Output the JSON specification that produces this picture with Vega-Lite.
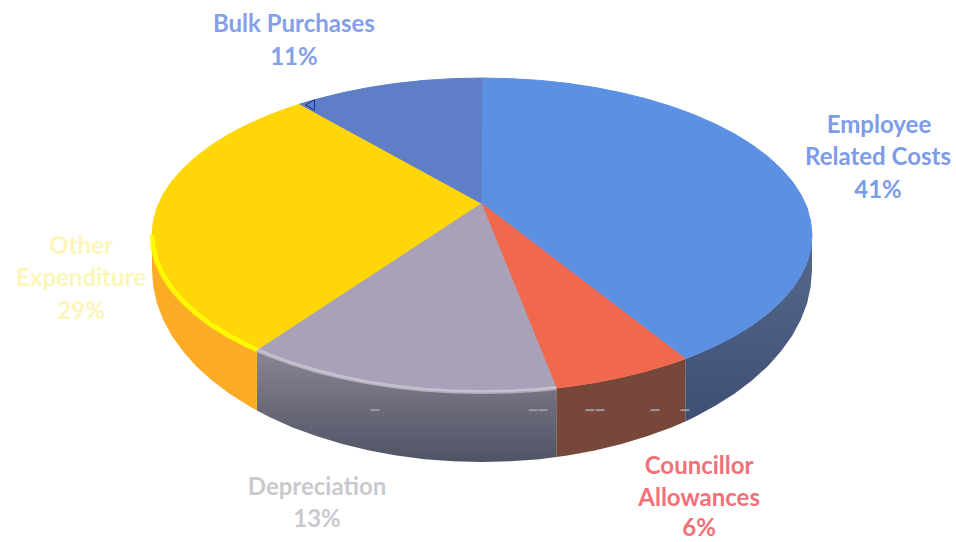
{
  "$schema": "https://vega.github.io/schema/vega-lite/v6.json",
  "width": 956,
  "height": 542,
  "padding": 0,
  "autosize": {"type": "none"},
  "background": "white",
  "view": {"stroke": null},
  "datasets": {
    "faces": [
      {"slice":"Employee","i":0,"u":-0.003,"v":0.204},{"slice":"Employee","i":1,"u":0,"v":1},{"slice":"Employee","i":2,"u":0.087,"v":0.996},{"slice":"Employee","i":3,"u":0.174,"v":0.985},{"slice":"Employee","i":4,"u":0.259,"v":0.966},{"slice":"Employee","i":5,"u":0.342,"v":0.94},{"slice":"Employee","i":6,"u":0.423,"v":0.906},{"slice":"Employee","i":7,"u":0.5,"v":0.866},{"slice":"Employee","i":8,"u":0.574,"v":0.819},{"slice":"Employee","i":9,"u":0.643,"v":0.766},{"slice":"Employee","i":10,"u":0.707,"v":0.707},{"slice":"Employee","i":11,"u":0.766,"v":0.643},{"slice":"Employee","i":12,"u":0.819,"v":0.574},{"slice":"Employee","i":13,"u":0.866,"v":0.5},{"slice":"Employee","i":14,"u":0.906,"v":0.423},{"slice":"Employee","i":15,"u":0.94,"v":0.342},{"slice":"Employee","i":16,"u":0.966,"v":0.259},{"slice":"Employee","i":17,"u":0.985,"v":0.174},{"slice":"Employee","i":18,"u":0.996,"v":0.087},{"slice":"Employee","i":19,"u":1,"v":0},{"slice":"Employee","i":20,"u":0.996,"v":-0.087},{"slice":"Employee","i":21,"u":0.985,"v":-0.174},{"slice":"Employee","i":22,"u":0.966,"v":-0.259},{"slice":"Employee","i":23,"u":0.94,"v":-0.342},{"slice":"Employee","i":24,"u":0.906,"v":-0.423},{"slice":"Employee","i":25,"u":0.866,"v":-0.5},{"slice":"Employee","i":26,"u":0.819,"v":-0.574},{"slice":"Employee","i":27,"u":0.766,"v":-0.643},{"slice":"Employee","i":28,"u":0.707,"v":-0.707},{"slice":"Employee","i":29,"u":0.643,"v":-0.766},{"slice":"Employee","i":30,"u":0.616,"v":-0.788},
      {"slice":"Councillor","i":0,"u":-0.003,"v":0.204},{"slice":"Councillor","i":1,"u":0.616,"v":-0.788},{"slice":"Councillor","i":2,"u":0.574,"v":-0.819},{"slice":"Councillor","i":3,"u":0.5,"v":-0.866},{"slice":"Councillor","i":4,"u":0.423,"v":-0.906},{"slice":"Councillor","i":5,"u":0.342,"v":-0.94},{"slice":"Councillor","i":6,"u":0.259,"v":-0.966},{"slice":"Councillor","i":7,"u":0.225,"v":-0.974},
      {"slice":"Depreciation","i":0,"u":-0.003,"v":0.204},{"slice":"Depreciation","i":1,"u":0.225,"v":-0.974},{"slice":"Depreciation","i":2,"u":0.174,"v":-0.985},{"slice":"Depreciation","i":3,"u":0.087,"v":-0.996},{"slice":"Depreciation","i":4,"u":0,"v":-1},{"slice":"Depreciation","i":5,"u":-0.087,"v":-0.996},{"slice":"Depreciation","i":6,"u":-0.174,"v":-0.985},{"slice":"Depreciation","i":7,"u":-0.259,"v":-0.966},{"slice":"Depreciation","i":8,"u":-0.342,"v":-0.94},{"slice":"Depreciation","i":9,"u":-0.423,"v":-0.906},{"slice":"Depreciation","i":10,"u":-0.5,"v":-0.866},{"slice":"Depreciation","i":11,"u":-0.574,"v":-0.819},{"slice":"Depreciation","i":12,"u":-0.643,"v":-0.766},{"slice":"Depreciation","i":13,"u":-0.682,"v":-0.731},
      {"slice":"Other","i":0,"u":-0.003,"v":0.204},{"slice":"Other","i":1,"u":-0.682,"v":-0.731},{"slice":"Other","i":2,"u":-0.707,"v":-0.707},{"slice":"Other","i":3,"u":-0.766,"v":-0.643},{"slice":"Other","i":4,"u":-0.819,"v":-0.574},{"slice":"Other","i":5,"u":-0.866,"v":-0.5},{"slice":"Other","i":6,"u":-0.906,"v":-0.423},{"slice":"Other","i":7,"u":-0.94,"v":-0.342},{"slice":"Other","i":8,"u":-0.966,"v":-0.259},{"slice":"Other","i":9,"u":-0.985,"v":-0.174},{"slice":"Other","i":10,"u":-0.996,"v":-0.087},{"slice":"Other","i":11,"u":-1,"v":0},{"slice":"Other","i":12,"u":-0.996,"v":0.087},{"slice":"Other","i":13,"u":-0.985,"v":0.174},{"slice":"Other","i":14,"u":-0.966,"v":0.259},{"slice":"Other","i":15,"u":-0.94,"v":0.342},{"slice":"Other","i":16,"u":-0.906,"v":0.423},{"slice":"Other","i":17,"u":-0.866,"v":0.5},{"slice":"Other","i":18,"u":-0.819,"v":0.574},{"slice":"Other","i":19,"u":-0.766,"v":0.643},{"slice":"Other","i":20,"u":-0.707,"v":0.707},{"slice":"Other","i":21,"u":-0.643,"v":0.766},{"slice":"Other","i":22,"u":-0.574,"v":0.819},{"slice":"Other","i":23,"u":-0.552,"v":0.834},
      {"slice":"Bulk","i":0,"u":-0.003,"v":0.204},{"slice":"Bulk","i":1,"u":-0.552,"v":0.834},{"slice":"Bulk","i":2,"u":-0.5,"v":0.866},{"slice":"Bulk","i":3,"u":-0.423,"v":0.906},{"slice":"Bulk","i":4,"u":-0.342,"v":0.94},{"slice":"Bulk","i":5,"u":-0.259,"v":0.966},{"slice":"Bulk","i":6,"u":-0.174,"v":0.985},{"slice":"Bulk","i":7,"u":-0.087,"v":0.996},{"slice":"Bulk","i":8,"u":0,"v":1}
    ],
    "walls": [
      {"slice":"Employee","u":1,"v":0,"vb":-0.223},{"slice":"Employee","u":0.996,"v":-0.087,"vb":-0.329},{"slice":"Employee","u":0.985,"v":-0.174,"vb":-0.436},{"slice":"Employee","u":0.966,"v":-0.259,"vb":-0.54},{"slice":"Employee","u":0.94,"v":-0.342,"vb":-0.641},{"slice":"Employee","u":0.906,"v":-0.423,"vb":-0.74},{"slice":"Employee","u":0.866,"v":-0.5,"vb":-0.835},{"slice":"Employee","u":0.819,"v":-0.574,"vb":-0.925},{"slice":"Employee","u":0.766,"v":-0.643,"vb":-1.009},{"slice":"Employee","u":0.707,"v":-0.707,"vb":-1.088},{"slice":"Employee","u":0.643,"v":-0.766,"vb":-1.16},{"slice":"Employee","u":0.616,"v":-0.788,"vb":-1.187},
      {"slice":"Councillor","u":0.616,"v":-0.788,"vb":-1.187},{"slice":"Councillor","u":0.574,"v":-0.819,"vb":-1.225},{"slice":"Councillor","u":0.5,"v":-0.866,"vb":-1.282},{"slice":"Councillor","u":0.423,"v":-0.906,"vb":-1.331},{"slice":"Councillor","u":0.342,"v":-0.94,"vb":-1.373},{"slice":"Councillor","u":0.259,"v":-0.966,"vb":-1.404},{"slice":"Councillor","u":0.225,"v":-0.974,"vb":-1.414},
      {"slice":"Depreciation","u":0.225,"v":-0.974,"vb":-1.414},{"slice":"Depreciation","u":0.174,"v":-0.985,"vb":-1.428},{"slice":"Depreciation","u":0.087,"v":-0.996,"vb":-1.441},{"slice":"Depreciation","u":0,"v":-1,"vb":-1.446},{"slice":"Depreciation","u":-0.087,"v":-0.996,"vb":-1.441},{"slice":"Depreciation","u":-0.174,"v":-0.985,"vb":-1.428},{"slice":"Depreciation","u":-0.259,"v":-0.966,"vb":-1.404},{"slice":"Depreciation","u":-0.342,"v":-0.94,"vb":-1.373},{"slice":"Depreciation","u":-0.423,"v":-0.906,"vb":-1.331},{"slice":"Depreciation","u":-0.5,"v":-0.866,"vb":-1.282},{"slice":"Depreciation","u":-0.574,"v":-0.819,"vb":-1.225},{"slice":"Depreciation","u":-0.643,"v":-0.766,"vb":-1.16},{"slice":"Depreciation","u":-0.682,"v":-0.731,"vb":-1.117},
      {"slice":"Other","u":-0.682,"v":-0.731,"vb":-1.117},{"slice":"Other","u":-0.707,"v":-0.707,"vb":-1.088},{"slice":"Other","u":-0.766,"v":-0.643,"vb":-1.009},{"slice":"Other","u":-0.819,"v":-0.574,"vb":-0.925},{"slice":"Other","u":-0.866,"v":-0.5,"vb":-0.835},{"slice":"Other","u":-0.906,"v":-0.423,"vb":-0.74},{"slice":"Other","u":-0.94,"v":-0.342,"vb":-0.641},{"slice":"Other","u":-0.966,"v":-0.259,"vb":-0.54},{"slice":"Other","u":-0.985,"v":-0.174,"vb":-0.436},{"slice":"Other","u":-0.996,"v":-0.087,"vb":-0.329},{"slice":"Other","u":-1,"v":0,"vb":-0.223}
    ],
    "labels": [
      {"slice":"Employee","text":"Employee","u":1.203,"v":0.694},
      {"slice":"Employee","text":"Related Costs","u":1.2,"v":0.49},
      {"slice":"Employee","text":"41%","u":1.2,"v":0.28},
      {"slice":"Councillor","text":"Councillor","u":0.658,"v":-1.478},
      {"slice":"Councillor","text":"Allowances","u":0.658,"v":-1.682},
      {"slice":"Councillor","text":"6%","u":0.658,"v":-1.873},
      {"slice":"Depreciation","text":"Depreciation","u":-0.5,"v":-1.611},
      {"slice":"Depreciation","text":"13%","u":-0.5,"v":-1.815},
      {"slice":"Other","text":"Other","u":-1.215,"v":-0.076},
      {"slice":"Other","text":"Expenditure","u":-1.215,"v":-0.28},
      {"slice":"Other","text":"29%","u":-1.215,"v":-0.49},
      {"slice":"Bulk","text":"Bulk Purchases","u":-0.57,"v":1.338},
      {"slice":"Bulk","text":"11%","u":-0.57,"v":1.127}
    ],
    "specks": [
      {"u":-0.324,"v":-1.115},{"u":0.155,"v":-1.115},{"u":0.185,"v":-1.115},{"u":0.327,"v":-1.115},{"u":0.358,"v":-1.115},{"u":0.524,"v":-1.115},{"u":0.615,"v":-1.115}
    ],
    "notch": [{"u":-0.521,"v":0.828}]
  },
  "layer": [
    {
      "data": {"name": "walls"},
      "transform": [{"filter": "datum.slice === 'Employee'"}],
      "mark": {"type": "area", "fill": {"gradient": "linear", "x1": 0, "y1": 0, "x2": 0, "y2": 1, "stops": [{"offset": 0, "color": "#566a8e"}, {"offset": 1, "color": "#3e4f72"}]}},
      "encoding": {
        "x": {"field": "u", "type": "quantitative", "scale": {"domain": [-1.4606, 1.4364], "nice": false, "zero": false}, "axis": null},
        "y": {"field": "v", "type": "quantitative", "scale": {"domain": [-1.955, 1.4968], "nice": false, "zero": false}, "axis": null},
        "y2": {"field": "vb"}
      }
    },
    {
      "data": {"name": "walls"},
      "transform": [{"filter": "datum.slice === 'Councillor'"}],
      "mark": {"type": "area", "fill": "#77483a"},
      "encoding": {
        "x": {"field": "u", "type": "quantitative", "axis": null},
        "y": {"field": "v", "type": "quantitative", "axis": null},
        "y2": {"field": "vb"}
      }
    },
    {
      "data": {"name": "walls"},
      "transform": [{"filter": "datum.slice === 'Depreciation'"}],
      "mark": {"type": "area", "fill": {"gradient": "linear", "x1": 0, "y1": 0, "x2": 0, "y2": 1, "stops": [{"offset": 0, "color": "#8a8597"}, {"offset": 0.5, "color": "#6c6b7c"}, {"offset": 1, "color": "#4f5464"}]}},
      "encoding": {
        "x": {"field": "u", "type": "quantitative", "axis": null},
        "y": {"field": "v", "type": "quantitative", "axis": null},
        "y2": {"field": "vb"}
      }
    },
    {
      "data": {"name": "walls"},
      "transform": [{"filter": "datum.slice === 'Other'"}],
      "mark": {"type": "area", "fill": "#fbab26"},
      "encoding": {
        "x": {"field": "u", "type": "quantitative", "axis": null},
        "y": {"field": "v", "type": "quantitative", "axis": null},
        "y2": {"field": "vb"}
      }
    },
    {
      "data": {"name": "specks"},
      "mark": {"type": "point", "shape": "stroke", "size": 80, "stroke": "#a9a7af", "strokeWidth": 2, "opacity": 0.8},
      "encoding": {
        "x": {"field": "u", "type": "quantitative", "axis": null},
        "y": {"field": "v", "type": "quantitative", "axis": null}
      }
    },
    {
      "data": {"name": "faces"},
      "mark": {"type": "line", "interpolate": "linear-closed", "filled": true, "strokeWidth": 1},
      "encoding": {
        "x": {"field": "u", "type": "quantitative", "axis": null},
        "y": {"field": "v", "type": "quantitative", "axis": null},
        "detail": {"field": "slice"},
        "order": {"field": "i", "type": "quantitative"},
        "fill": {"field": "slice", "type": "nominal", "legend": null, "scale": {"domain": ["Employee", "Councillor", "Depreciation", "Other", "Bulk"], "range": ["#5b90e2", "#f0694f", "#a9a1b7", "#ffd608", "#5f7ec8"]}},
        "stroke": {"field": "slice", "type": "nominal", "legend": null, "scale": {"domain": ["Employee", "Councillor", "Depreciation", "Other", "Bulk"], "range": ["#5b90e2", "#f0694f", "#a9a1b7", "#ffd608", "#5f7ec8"]}}
      }
    },
    {
      "data": {"name": "walls"},
      "transform": [{"filter": "datum.slice === 'Other'"}],
      "mark": {"type": "line", "stroke": "#ffff00", "strokeWidth": 5, "opacity": 0.85},
      "encoding": {
        "x": {"field": "u", "type": "quantitative", "axis": null},
        "y": {"field": "v", "type": "quantitative", "axis": null}
      }
    },
    {
      "data": {"name": "walls"},
      "transform": [{"filter": "datum.slice === 'Depreciation'"}],
      "mark": {"type": "line", "stroke": "#d8d4e0", "strokeWidth": 4, "opacity": 0.6},
      "encoding": {
        "x": {"field": "u", "type": "quantitative", "axis": null},
        "y": {"field": "v", "type": "quantitative", "axis": null}
      }
    },
    {
      "data": {"name": "notch"},
      "mark": {"type": "point", "shape": "triangle-left", "size": 110, "filled": true, "fill": "#5f7ec8", "stroke": "#1c2a8a", "strokeWidth": 1, "opacity": 1},
      "encoding": {
        "x": {"field": "u", "type": "quantitative", "axis": null},
        "y": {"field": "v", "type": "quantitative", "axis": null}
      }
    },
    {
      "data": {"name": "labels"},
      "mark": {"type": "text", "font": "Lato", "fontSize": 24, "fontWeight": "bold", "align": "center", "baseline": "middle"},
      "encoding": {
        "x": {"field": "u", "type": "quantitative", "axis": null},
        "y": {"field": "v", "type": "quantitative", "axis": null},
        "text": {"field": "text"},
        "color": {"field": "slice", "type": "nominal", "legend": null, "scale": {"domain": ["Employee", "Councillor", "Depreciation", "Other", "Bulk"], "range": ["#7c9ce8", "#f27178", "#c9c9ce", "#fdf6b8", "#84a0ea"]}}
      }
    }
  ]
}
